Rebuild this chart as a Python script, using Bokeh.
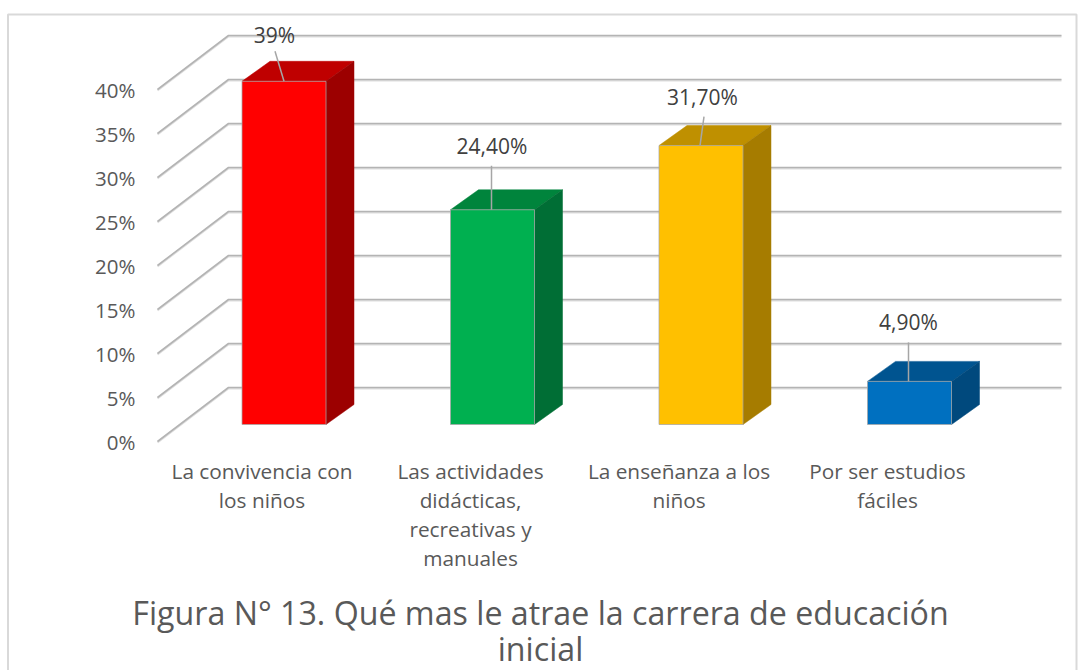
from bokeh.plotting import figure
from bokeh.models import Range1d, LinearAxis, FixedTicker
from bokeh.core.properties import value as V
from bokeh.embed import file_html
from bokeh.resources import INLINE

# ---- data
categories = ["La convivencia con\nlos niños",
              "Las actividades\ndidácticas,\nrecreativas y\nmanuales",
              "La enseñanza a los\nniños",
              "Por ser estudios\nfáciles"]
values = [39.0, 24.4, 31.7, 4.9]
value_labels = ["39%", "24,40%", "31,70%", "4,90%"]
y_ticks = [0, 5, 10, 15, 20, 25, 30, 35, 40]
y_tick_labels = {t: f"{t}%" for t in y_ticks}
title_lines = ["Figura N° 13. Qué mas le atrae la carrera de educación", "inicial"]

# ---- colours
front = ["#FF0000", "#00B050", "#FFC000", "#0070C0"]
top = ["#BF0000", "#00843C", "#BF9000", "#005490"]
side = ["#9C0000", "#006E35", "#A67C00", "#00497D"]
TXT = "#595959"
FONT = "Open Sans"

# ---- page geometry: scales are fitted so one category = 208.5 px, 1 % = 8.8 px
W, H = 1092, 670
PX_CAT, PX_PCT = 208.5, 8.8
X0_PAGE, Y0_PAGE = 283.5, 387.0      # category 0 centre, back-wall 0 %
def xp(px): return (px - X0_PAGE) / PX_CAT
def yp(px): return (Y0_PAGE - px) / PX_PCT

p = figure(width=W, height=H, output_backend="svg", toolbar_location=None,
           x_range=Range1d(xp(0), xp(W)), y_range=Range1d(yp(H), yp(0)),
           min_border=0, min_border_left=0, min_border_right=0, min_border_top=0, min_border_bottom=0,
           outline_line_color=None, background_fill_color="white", border_fill_color="white")
p.xaxis.visible = False
p.yaxis.visible = False
p.grid.visible = False

# chart border
p.line([xp(7.5), xp(7.5), xp(1076), xp(1076)], [yp(670), yp(14), yp(14), yp(670)],
       line_color="#d9d9d9", line_width=2)

# wall / floor grid
FRONT_DROP = 54 / PX_PCT
wall_x0, wall_x1, end_x = xp(157), xp(228), xp(1061)
grid_x = [[wall_x0, wall_x1, end_x] for _ in y_ticks]
p.multi_line(grid_x, [[t - FRONT_DROP - 0.1, t - 0.1, t - 0.1] for t in y_ticks],
             line_color="#dedede", line_width=2)
p.multi_line(grid_x, [[t - FRONT_DROP, t, t] for t in y_ticks],
             line_color="#b4b4b4", line_width=1.6)

# value axis at the front-left corner
p.extra_y_ranges["front"] = Range1d(yp(H) + FRONT_DROP, yp(0) + FRONT_DROP)
ax = LinearAxis(y_range_name="front", ticker=FixedTicker(ticks=y_ticks),
                major_label_overrides=y_tick_labels, axis_line_color=None,
                major_tick_line_color=None, minor_tick_line_color=None,
                major_label_text_font=FONT, major_label_text_font_size="20.5px",
                major_label_text_color=TXT, major_label_standoff=0,
                fixed_location=xp(141))
p.add_layout(ax, "left")

# 3-D bars
BASE = -37 / PX_PCT
HW = 42 / PX_CAT
DX, DY = 28 / PX_CAT, 20 / PX_PCT
tops = [BASE + v for v in values]
for i, t in enumerate(tops):
    l, r = i - HW, i + HW
    p.patch([l, r, r + DX, l + DX], [t, t, t + DY, t + DY], fill_color=top[i], line_color=top[i], line_width=0.5)
    p.patch([r, r + DX, r + DX, r], [BASE, BASE + DY, t + DY, t], fill_color=side[i], line_color=side[i], line_width=0.5)
    p.patch([l, r, r, l], [BASE, BASE, t, t], fill_color=front[i], line_color="#a6a6a6", line_width=0.75)

# data labels and leaders
lab_dx = [-9.5 / PX_CAT, -0.5 / PX_CAT, 1.5 / PX_CAT, -1 / PX_CAT]
lab_dy = [46 / PX_PCT, 64 / PX_PCT, 49 / PX_PCT, 59 / PX_PCT]
lead_x0 = [-9 / PX_CAT, -1 / PX_CAT, 3 / PX_CAT, -1 / PX_CAT]
lead_y0 = [30 / PX_PCT, 44 / PX_PCT, 29 / PX_PCT, 39 / PX_PCT]
lead_x1 = [0, -1 / PX_CAT, -1 / PX_CAT, -1 / PX_CAT]
p.segment([i + d for i, d in enumerate(lead_x0)], [t + d for t, d in zip(tops, lead_y0)],
          [i + d for i, d in enumerate(lead_x1)], tops, line_color="#a6a6a6", line_width=1.5)
p.text([i + d for i, d in enumerate(lab_dx)], [t + d for t, d in zip(tops, lab_dy)], text=value_labels,
       text_font=V(FONT), text_font_size="21px", text_color="#404040", text_align="center", text_baseline="middle")

# category labels
CAT_SHIFT = -22 / PX_CAT
p.text([i + CAT_SHIFT for i in range(4)], [yp(456)] * 4, text=categories, text_font=V(FONT), text_font_size="20.8px",
       text_color=TXT, text_align="center", text_baseline="top", text_line_height=1.04)

# title
p.text([xp(540), xp(540)], [yp(612), yp(647.5)], text=title_lines, text_font=V(FONT), text_font_size="32.2px",
       text_color=TXT, text_align="center", text_baseline="middle")

open("out.html", "w").write(file_html(p, INLINE))
